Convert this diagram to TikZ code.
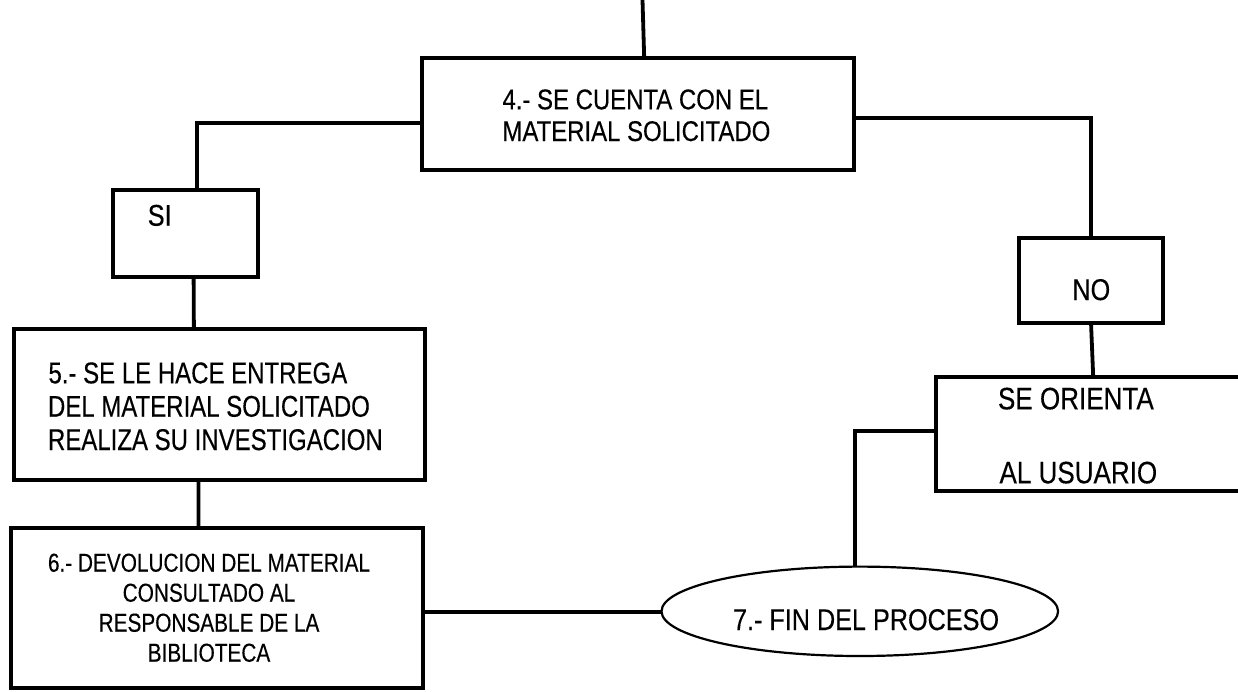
\documentclass[tikz,border=0pt]{standalone}
\usepackage{fontspec}
\setmainfont{Liberation Sans}
\newfontfamily\fnA[FakeStretch=0.84, FakeBold=0.3]{Liberation Sans}
\newfontfamily\fnB[FakeStretch=0.80, FakeBold=0.3]{Liberation Sans}
\usetikzlibrary{shapes.geometric}
\tikzset{
  box/.style={draw, rectangle, line width=4pt, inner sep=0pt, outer sep=0pt},
  endoval/.style={draw, ellipse, line width=2.2pt, inner sep=0pt, outer sep=0pt},
  conn/.style={line width=3.8pt},
  txt/.style={inner sep=0pt, outer sep=0pt},
}
\begin{document}
\begin{tikzpicture}[x=1pt, y=-1pt]
\clip (0,0) rectangle (1238,691);
\fill[white] (0,0) rectangle (1238,691);

% boxes
\node[box, minimum width=432.5pt, minimum height=111.7pt] (b4) at (638.2,114.2) {};
\node[box, minimum width=144.3pt, minimum height=86.7pt] (si) at (185.6,233.3) {};
\node[box, minimum width=411.2pt, minimum height=150.7pt] (b5) at (219.4,404.7) {};
\node[box, minimum width=412pt, minimum height=160pt] (b6) at (217,608.3) {};
\node[box, minimum width=144.1pt, minimum height=84.4pt] (no) at (1091,280.5) {};
\node[box, minimum width=313.7pt, minimum height=114pt] (se) at (1093.2,433.7) {};
\node[endoval, minimum width=396.6pt, minimum height=89.4pt] (fin) at (859.8,611.3) {};

% texts
\node[txt, anchor=base west] (t4a) at (502.5,109.3) {\fnA\fontsize{28.5}{32}\selectfont 4.- SE CUENTA CON EL};
\node[txt, anchor=base west] (t4b) at (502.5,141) {\fnA\fontsize{28.5}{32}\selectfont MATERIAL SOLICITADO};
\node[txt, anchor=base west] (tsi) at (147.8,225.7) {\fnA\fontsize{30}{33}\selectfont SI};
\node[txt, anchor=base west] (t5a) at (48.5,383.3) {\fnB\fontsize{30}{33}\selectfont 5.- SE LE HACE ENTREGA};
\node[txt, anchor=base west] (t5b) at (48,416.7) {\fnB\fontsize{30}{33}\selectfont DEL MATERIAL SOLICITADO};
\node[txt, anchor=base west] (t5c) at (48,450) {\fnB\fontsize{30}{33}\selectfont REALIZA SU INVESTIGACION};
\node[txt, anchor=base] (t6a) at (209,571.7) {\fnB\fontsize{26}{30}\selectfont 6.- DEVOLUCION DEL MATERIAL};
\node[txt, anchor=base] (t6b) at (209,601.7) {\fnB\fontsize{26}{30}\selectfont CONSULTADO AL};
\node[txt, anchor=base] (t6c) at (209,631.7) {\fnB\fontsize{26}{30}\selectfont RESPONSABLE DE LA};
\node[txt, anchor=base] (t6d) at (209,661.7) {\fnB\fontsize{26}{30}\selectfont BIBLIOTECA};
\node[txt, anchor=base] (tno) at (1091.3,300) {\fnA\fontsize{30}{33}\selectfont NO};
\node[txt, anchor=base west] (tsea) at (998,409.3) {\fnA\fontsize{31}{34}\selectfont SE ORIENTA};
\node[txt, anchor=base west] (tseb) at (999.5,483.3) {\fnA\fontsize{31}{34}\selectfont AL USUARIO};
\node[txt, anchor=base west] (tfin) at (733,630) {\fnA\fontsize{30}{33}\selectfont 7.- FIN DEL PROCESO};

% connectors
\coordinate (top) at (642.5,0);
\draw[conn] (top) -- ([xshift=6pt]b4.north);
\draw[conn] ([yshift=-9pt]b4.west) -| ([xshift=11pt]si.north);
\draw[conn] ([xshift=8pt]si.south) -- ([xshift=-25.5pt]b5.north);
\draw[conn] ([xshift=-21pt]b5.south) -- ([xshift=-18.5pt]b6.north);
\draw[conn] ([yshift=-4pt]b6.east) -- ([yshift=-4pt]b6.east -| fin.west);
\draw[conn] ([yshift=-4pt]b4.east) -| (no.north);
\draw[conn] (no.south) -- (se.north);
\draw[conn] ([yshift=3pt]se.west) -| ([xshift=-4.5pt]fin.north);
\end{tikzpicture}
\end{document}
